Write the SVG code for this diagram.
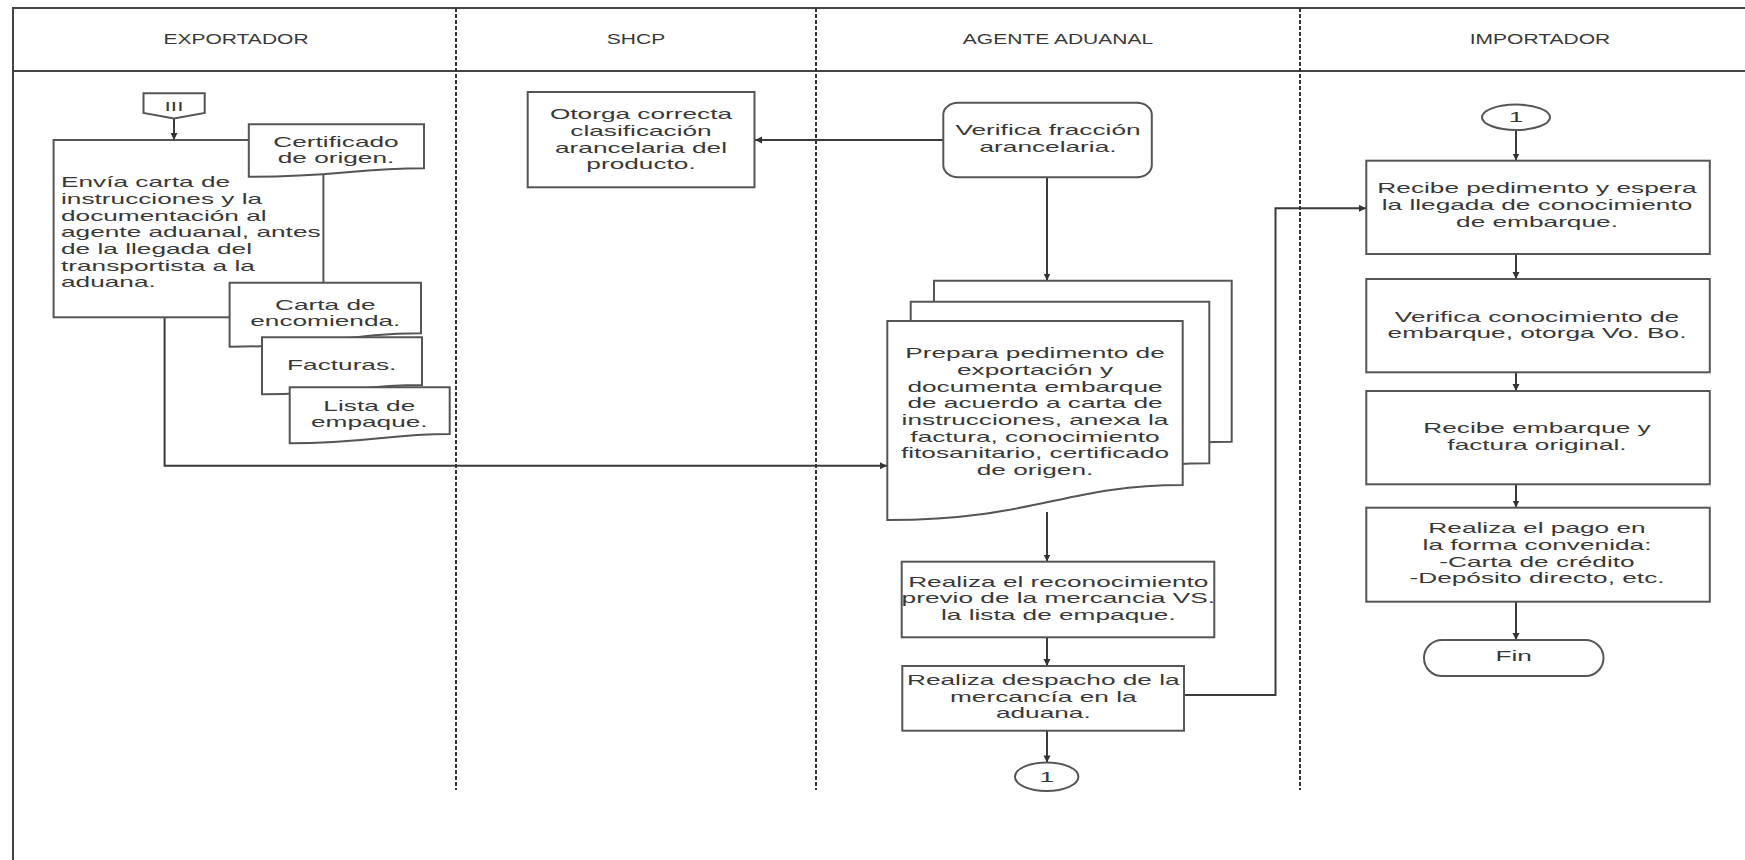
<svg xmlns="http://www.w3.org/2000/svg" width="1745" height="860" viewBox="0 0 1745 860">
<defs>
<marker id="ah" markerUnits="userSpaceOnUse" markerWidth="8" markerHeight="8" refX="7" refY="3.5" orient="auto">
<path d="M0,0 L7,3.5 L0,7 z" fill="#333"/>
</marker>
<style>
.frame{fill:none;stroke:#444;stroke-width:2}
.div{fill:none;stroke:#333;stroke-width:2;stroke-dasharray:4 2}
.box{fill:#fff;stroke:#555;stroke-width:2}
.con{fill:none;stroke:#3a3a3a;stroke-width:2}
.arr{marker-end:url(#ah)}
text{font-family:"Liberation Sans",Arial,sans-serif;font-size:15px;fill:#383838}
.c{text-anchor:middle}
.h{font-size:14.5px}
</style>
</defs>
<rect width="1745" height="860" fill="#fff"/>
<g id="lanes">
<path class="frame" d="M13,860 V8 H1745 M13,71 H1745"/>
<path class="div" d="M456,8 V790 M816,8 V790 M1300,8 V790"/>
<text class="c h" transform="translate(236,0) scale(1.45,1)" x="0" y="44">EXPORTADOR</text>
<text class="c h" transform="translate(636,0) scale(1.45,1)" x="0" y="44">SHCP</text>
<text class="c h" transform="translate(1058,0) scale(1.45,1)" x="0" y="44">AGENTE ADUANAL</text>
<text class="c h" transform="translate(1540,0) scale(1.45,1)" x="0" y="44">IMPORTADOR</text>
</g>
<g id="connectors">
<path class="con arr" d="M174,118.5 V140"/>
<path class="con arr" d="M164.6,317.3 V465.7 H887"/>
<path class="con arr" d="M943,140 H755"/>
<path class="con arr" d="M1047,177.3 V280.5"/>
<path class="con arr" d="M1047,512 V561.5"/>
<path class="con arr" d="M1047,637.3 V666"/>
<path class="con arr" d="M1047,730.7 V762.4"/>
<path class="con arr" d="M1184,695 H1275.5 V208.3 H1366"/>
<path class="con arr" d="M1516,130 V160.5"/>
<path class="con arr" d="M1516,254 V279"/>
<path class="con arr" d="M1516,372.3 V391"/>
<path class="con arr" d="M1516,484.3 V507.5"/>
<path class="con arr" d="M1516,601.7 V640"/>
</g>
<g id="n_iii">
<path class="box" d="M143.5,93.3 H204.7 V113 L174,118.5 L143.5,113 Z"/>
<text class="c" style="font-size:13px" transform="translate(174,0) scale(1.75,1)" x="0" y="111">III</text>
</g>
<g id="n_envia">
<rect class="box" x="53.6" y="140" width="269.8" height="177.3"/>
<text transform="translate(61,0) scale(1.75,1)"><tspan x="0" y="187.3">Envía carta de</tspan><tspan x="0" y="204">instrucciones y la</tspan><tspan x="0" y="220.7">documentación al</tspan><tspan x="0" y="237.4">agente aduanal, antes</tspan><tspan x="0" y="254.1">de la llegada del</tspan><tspan x="0" y="270.8">transportista a la</tspan><tspan x="0" y="287.5">aduana.</tspan></text>
</g>
<g id="n_certificado">
<path class="box" d="M248.8,124.3 H424 V168.3 C353.9,168.3 336.4,176.7 248.8,176.7 Z"/>
<text class="c" transform="translate(336,0) scale(1.75,1)"><tspan x="0" y="146.7">Certificado</tspan><tspan x="0" y="163.3">de origen.</tspan></text>
</g>
<g id="n_carta">
<path class="box" d="M229.6,282.7 H421 V333.3 C344.4,333.3 325.3,346.7 229.6,346.7 Z"/>
<text class="c" transform="translate(325.3,0) scale(1.75,1)"><tspan x="0" y="310">Carta de</tspan><tspan x="0" y="326.5">encomienda.</tspan></text>
</g>
<g id="n_facturas">
<path class="box" d="M262,337.3 H422 V385 C358,385 342,394.3 262,394.3 Z"/>
<text class="c" transform="translate(341.7,0) scale(1.75,1)" x="0" y="370">Facturas.</text>
</g>
<g id="n_lista">
<path class="box" d="M289.7,387.3 H449.7 V434 C385.7,434 369.7,443.3 289.7,443.3 Z"/>
<text class="c" transform="translate(369.3,0) scale(1.75,1)"><tspan x="0" y="410.7">Lista de</tspan><tspan x="0" y="427.3">empaque.</tspan></text>
</g>
<g id="n_otorga">
<rect class="box" x="527.7" y="92" width="226.8" height="95.3"/>
<text class="c" transform="translate(641,0) scale(1.75,1)"><tspan x="0" y="119.3">Otorga correcta</tspan><tspan x="0" y="136">clasificación</tspan><tspan x="0" y="152.7">arancelaria del</tspan><tspan x="0" y="169.3">producto.</tspan></text>
</g>
<g id="n_verifica">
<rect class="box" x="943.3" y="102.7" width="208.5" height="74.6" rx="15" ry="12"/>
<text class="c" transform="translate(1048,0) scale(1.75,1)"><tspan x="0" y="135">Verifica fracción</tspan><tspan x="0" y="151.7">arancelaria.</tspan></text>
</g>
<g id="n_prepara">
<path class="box" d="M934,280.7 H1231.7 V441.7 C1112.6,441.7 1082.8,476.7 934,476.7 Z"/>
<path class="box" d="M910.7,301.7 H1209.3 V463.3 C1089.9,463.3 1060,498.3 910.7,498.3 Z"/>
<path class="box" d="M887.3,321 H1182.7 V485 C1064.5,485 1035,520 887.3,520 Z"/>
<text class="c" transform="translate(1035,0) scale(1.75,1)"><tspan x="0" y="358.3">Prepara pedimento de</tspan><tspan x="0" y="375">exportación y</tspan><tspan x="0" y="391.7">documenta embarque</tspan><tspan x="0" y="408.4">de acuerdo a carta de</tspan><tspan x="0" y="425.1">instrucciones, anexa la</tspan><tspan x="0" y="441.8">factura, conocimiento</tspan><tspan x="0" y="458.5">fitosanitario, certificado</tspan><tspan x="0" y="475.2">de origen.</tspan></text>
</g>
<g id="n_reconocimiento">
<rect class="box" x="901.7" y="561.7" width="312.6" height="75.6"/>
<text class="c" transform="translate(1058.3,0) scale(1.75,1)"><tspan x="0" y="586.7">Realiza el reconocimiento</tspan><tspan x="0" y="603.3">previo de la mercancia VS.</tspan><tspan x="0" y="620">la lista de empaque.</tspan></text>
</g>
<g id="n_despacho">
<rect class="box" x="902.3" y="666" width="281.7" height="64.7"/>
<text class="c" transform="translate(1043.3,0) scale(1.75,1)"><tspan x="0" y="685">Realiza despacho de la</tspan><tspan x="0" y="701.7">mercancía en la</tspan><tspan x="0" y="718.3">aduana.</tspan></text>
</g>
<g id="n_c1_out">
<ellipse class="box" cx="1046.7" cy="776.7" rx="31.7" ry="14.3"/>
<text class="c" transform="translate(1046.7,0) scale(1.75,1)" x="0" y="782">1</text>
</g>
<g id="n_c1_in">
<ellipse class="box" cx="1516" cy="117.3" rx="34" ry="12.7"/>
<text class="c" transform="translate(1516,0) scale(1.75,1)" x="0" y="122.5">1</text>
</g>
<g id="n_recibe">
<rect class="box" x="1366.3" y="160.7" width="343.5" height="93.3"/>
<text class="c" transform="translate(1537,0) scale(1.75,1)"><tspan x="0" y="193.3">Recibe pedimento y espera</tspan><tspan x="0" y="210">la llegada de conocimiento</tspan><tspan x="0" y="226.7">de embarque.</tspan></text>
</g>
<g id="n_verifica_con">
<rect class="box" x="1366.3" y="279" width="343.5" height="93.3"/>
<text class="c" transform="translate(1537,0) scale(1.75,1)"><tspan x="0" y="321.7">Verifica conocimiento de</tspan><tspan x="0" y="338.3">embarque, otorga Vo. Bo.</tspan></text>
</g>
<g id="n_recibe_emb">
<rect class="box" x="1366.3" y="391" width="343.5" height="93.3"/>
<text class="c" transform="translate(1537,0) scale(1.75,1)"><tspan x="0" y="433">Recibe embarque y</tspan><tspan x="0" y="449.7">factura original.</tspan></text>
</g>
<g id="n_pago">
<rect class="box" x="1366.3" y="507.7" width="343.5" height="94"/>
<text class="c" transform="translate(1537,0) scale(1.75,1)"><tspan x="0" y="533.3">Realiza el pago en</tspan><tspan x="0" y="550">la forma convenida:</tspan><tspan x="0" y="566.7">-Carta de crédito</tspan><tspan x="0" y="583.3">-Depósito directo, etc.</tspan></text>
</g>
<g id="n_fin">
<rect class="box" x="1424" y="640" width="179.5" height="36" rx="18" ry="18"/>
<text class="c" transform="translate(1513.7,0) scale(1.75,1)" x="0" y="661">Fin</text>
</g>
</svg>
